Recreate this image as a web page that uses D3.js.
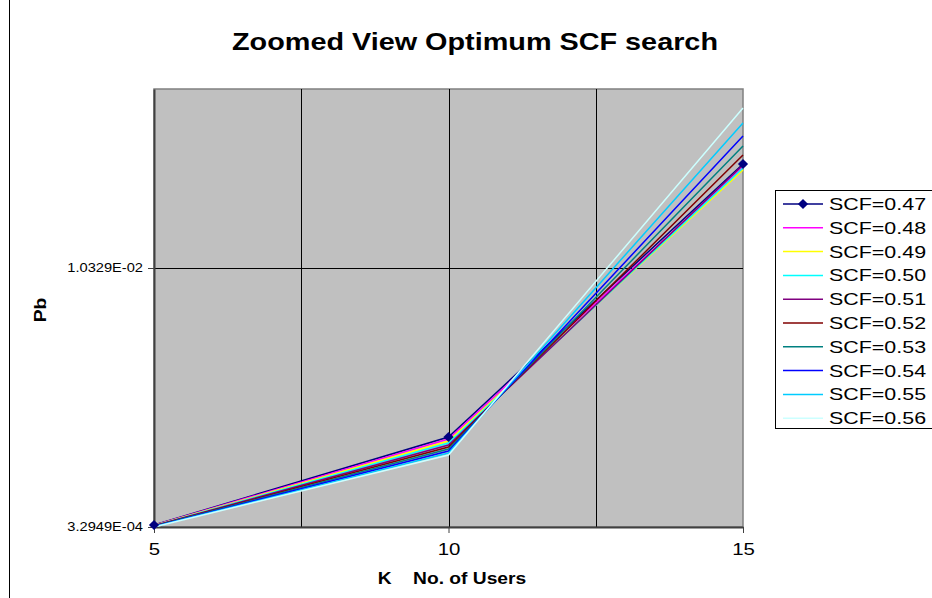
<!DOCTYPE html>
<html>
<head>
<meta charset="utf-8">
<script src="https://cdn.jsdelivr.net/npm/d3@7"></script>
<style>
	body { margin: 0; background: #fff; }
	text { font-family: Arial, "Liberation Sans", sans-serif; }
</style>
</head>
<body>
<div id="vis"></div>
<script>

var users = [5, 10, 15];
var scfLabels = ['SCF=0.47', 'SCF=0.48', 'SCF=0.49', 'SCF=0.50', 'SCF=0.51', 'SCF=0.52', 'SCF=0.53', 'SCF=0.54', 'SCF=0.55', 'SCF=0.56'];

// Pb at K = 5, 10, 15
var scf047 = [4.07e-4, 3.804e-3, 1.4345e-2];
var scf048 = [3.98e-4, 3.727e-3, 1.4229e-2];
var scf049 = [3.90e-4, 3.650e-3, 1.4113e-2];
var scf050 = [3.82e-4, 3.573e-3, 1.4191e-2];
var scf051 = [3.74e-4, 3.496e-3, 1.4306e-2];
var scf052 = [3.66e-4, 3.418e-3, 1.4692e-2];
var scf053 = [3.57e-4, 3.341e-3, 1.5040e-2];
var scf054 = [3.49e-4, 3.264e-3, 1.5426e-2];
var scf055 = [3.40e-4, 3.187e-3, 1.5928e-2];
var scf056 = [3.2949e-4, 3.109e-3, 1.6507e-2];

var yTickValues = [3.2949e-4, 1.0329e-2];
var yTickLabels = ['3.2949E-04', '1.0329E-02'];
var xTickValues = [5, 10, 15];
var xGridValues = [7.5, 10, 12.5];

var allSeries = [scf047, scf048, scf049, scf050, scf051, scf052, scf053, scf054, scf055, scf056];
var colors = ['#000080', '#ff00ff', '#ffff00', '#00ffff', '#800080', '#800000', '#008080', '#0000ff', '#00ccff', '#ccffff'];

var stretch = 1.2;

var svg = d3.select('#vis')
	.append('svg')
	.attr('width', 932)
	.attr('height', 598);

// chart area border
svg.append('rect')
	.attr('x', 9.5).attr('y', -3)
	.attr('width', 1000).attr('height', 700)
	.attr('fill', '#fff')
	.attr('stroke', '#000');

var x = d3.scaleLinear().domain([5, 15]).range([154, 743]);
var y = d3.scaleLinear().domain([3.2949e-4, 0.01724]).range([527, 89]);

// widen text like the original rendering
function widen(sel, k) {
	sel.each(function() {
		var w = this.getComputedTextLength();
		d3.select(this).attr('textLength', w * (k || stretch)).attr('lengthAdjust', 'spacingAndGlyphs');
	});
}

// plot area
svg.append('rect')
	.attr('x', x(5)).attr('y', y.range()[1])
	.attr('width', x(15) - x(5)).attr('height', y.range()[0] - y.range()[1])
	.attr('fill', '#c0c0c0')
	.attr('stroke', '#808080')
	.attr('stroke-width', 1.5);

svg.selectAll('.xGrid')
	.data(xGridValues)
	.enter().append('line')
	.attr('class', 'xGrid')
	.attr('x1', function (d) { return Math.round(x(d)) + 0.5; })
	.attr('x2', function (d) { return Math.round(x(d)) + 0.5; })
	.attr('y1', y.range()[1]).attr('y2', y.range()[0])
	.attr('stroke', '#000');

svg.selectAll('.yGrid')
	.data(yTickValues.slice(1))
	.enter().append('line')
	.attr('class', 'yGrid')
	.attr('x1', x(5)).attr('x2', x(15))
	.attr('y1', function (d) { return Math.round(y(d)) + 0.5; })
	.attr('y2', function (d) { return Math.round(y(d)) + 0.5; })
	.attr('stroke', '#000');

// axes
var yAxis = d3.axisLeft(y)
	.tickValues(yTickValues)
	.tickSizeInner(6)
	.tickSizeOuter(0)
	.tickFormat(function (d, i) { return yTickLabels[i]; });

var xAxis = d3.axisBottom(x)
	.tickValues(xTickValues)
	.tickSizeInner(6)
	.tickSizeOuter(0)
	.tickPadding(10)
	.tickFormat(d3.format('d'));

var gy = svg.append('g')
	.attr('transform', 'translate(' + x(5) + ',0)')
	.call(yAxis);
gy.select('.domain').attr('stroke', '#404040').attr('stroke-width', 2);
gy.selectAll('.tick line').attr('stroke', '#404040');
gy.selectAll('.tick text')
	.attr('font-size', 12)
	.attr('fill', '#000')
	.attr('x', -11)
	.call(widen, 1.22);

var gx = svg.append('g')
	.attr('transform', 'translate(0,' + y.range()[0] + ')')
	.call(xAxis);
gx.select('.domain').attr('stroke', '#404040').attr('stroke-width', 2);
gx.selectAll('.tick line').attr('stroke', '#404040');
gx.selectAll('.tick text')
	.attr('font-size', 17)
	.attr('fill', '#000')
	.call(widen);

// series
var line = d3.line()
	.x(function (d, i) { return x(users[i]); })
	.y(function (d) { return y(d); });

svg.selectAll('.series')
	.data(allSeries)
	.enter().append('path')
	.attr('class', 'series')
	.attr('d', line)
	.attr('fill', 'none')
	.attr('stroke', function (d, i) { return colors[i]; })
	.attr('stroke-width', 1.5);

var marker = d3.symbol().type(d3.symbolSquare).size(52);

svg.selectAll('.marker')
	.data(scf047)
	.enter().append('path')
	.attr('class', 'marker')
	.attr('d', marker)
	.attr('transform', function (d, i) { return 'translate(' + x(users[i]) + ',' + y(d) + ') rotate(45)'; })
	.attr('fill', '#000080');

// titles
svg.append('text')
	.attr('x', 475).attr('y', 50)
	.attr('text-anchor', 'middle')
	.attr('font-size', 24)
	.attr('font-weight', 'bold')
	.text('Zoomed View Optimum SCF search')
	.call(widen);

svg.append('text')
	.attr('x', 452).attr('y', 584)
	.attr('text-anchor', 'middle')
	.attr('font-size', 16)
	.attr('font-weight', 'bold')
	.attr('xml:space', 'preserve')
	.text('K    No. of Users')
	.call(widen);

svg.append('text')
	.attr('transform', 'translate(46,310) rotate(-90)')
	.attr('text-anchor', 'middle')
	.attr('font-size', 16)
	.attr('font-weight', 'bold')
	.text('Pb')
	.call(widen);

// legend
var legend = svg.append('g').attr('transform', 'translate(775,190)');

legend.append('rect')
	.attr('x', 0.5).attr('y', 0.5)
	.attr('width', 200).attr('height', 238)
	.attr('fill', '#fff')
	.attr('stroke', '#000');

var rows = legend.selectAll('.legendRow')
	.data(scfLabels)
	.enter().append('g')
	.attr('class', 'legendRow')
	.attr('transform', function (d, i) { return 'translate(0,' + (14 + i * 23.8) + ')'; });

rows.append('line')
	.attr('x1', 8).attr('x2', 48)
	.attr('stroke', function (d, i) { return colors[i]; })
	.attr('stroke-width', 1.5);

rows.filter(function (d, i) { return i === 0; })
	.append('path')
	.attr('d', marker)
	.attr('transform', 'translate(28,0) rotate(45)')
	.attr('fill', '#000080');

rows.append('text')
	.attr('x', 54).attr('y', 6)
	.attr('font-size', 17)
	.text(function (d) { return d; })
	.call(widen, 1.26);

</script>
</body>
</html>
